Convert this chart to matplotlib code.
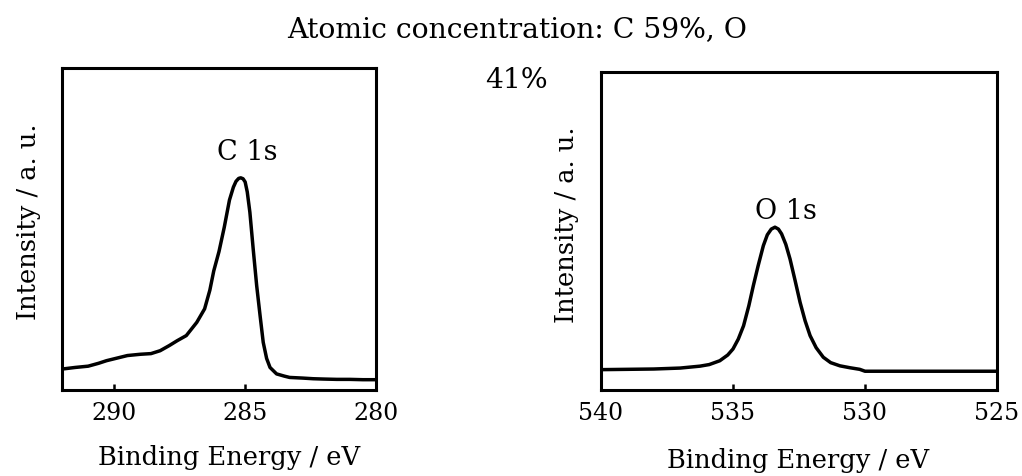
import matplotlib
matplotlib.use("Agg")
import matplotlib.pyplot as plt

# ---- data ----
c1s_be = [292.0, 291.5, 291.0, 290.6, 290.3, 289.9, 289.5, 289.0, 288.6, 288.25,
          287.9, 287.6, 287.25, 286.85, 286.55, 286.35, 286.2, 286.0, 285.8, 285.6,
          285.45, 285.35, 285.25, 285.17, 285.08, 285.0, 284.92, 284.82, 284.69,
          284.56, 284.43, 284.31, 284.18, 284.05, 283.8, 283.5, 283.3, 282.8, 282.4,
          282.0, 281.5, 281.0, 280.5, 280.0]
c1s_int = [6.5, 7.0, 7.4, 8.3, 9.1, 9.9, 10.7, 11.1, 11.3, 12.2,
           13.8, 15.3, 16.9, 21.0, 25.2, 31.0, 37.0, 43.0, 50.5, 59.0,
           63.0, 64.8, 65.7, 65.9, 65.6, 64.6, 61.5, 55.2, 43.5,
           32.4, 23.1, 14.8, 9.8, 7.0, 5.0, 4.3, 3.9, 3.7, 3.5,
           3.4, 3.3, 3.3, 3.2, 3.2]

o1s_be = [540.0, 539.0, 538.0, 537.0, 536.25, 535.9, 535.5, 535.2, 535.0, 534.8,
          534.6, 534.4, 534.23, 534.05, 533.85, 533.7, 533.55, 533.41, 533.28,
          533.16, 533.0, 532.84, 532.65, 532.46, 532.27, 532.08, 531.85, 531.58,
          531.3, 530.95, 530.57, 530.2, 530.0, 528.0, 525.0]
o1s_int = [6.4, 6.5, 6.6, 6.9, 7.5, 8.0, 9.2, 11.0, 12.9, 16.0,
           20.2, 26.5, 32.8, 39.0, 45.4, 48.8, 50.6, 51.2, 50.6,
           49.1, 45.8, 41.2, 34.5, 27.6, 21.8, 17.1, 13.3, 10.3,
           8.6, 7.6, 7.0, 6.5, 5.9, 5.9, 5.9]

c_ticks = [290, 285, 280]
o_ticks = [540, 535, 530, 525]

title_line1 = "Atomic concentration: C 59%, O"
title_line2 = "41%"
xlabel = "Binding Energy / eV"
ylabel = "Intensity / a. u."

plt.rcParams['font.family'] = ['DejaVu Serif']
FS_TICK = 17
FS_LBL = 18.5
FS_PEAK = 19.5
FS_TITLE = 20.3

fig = plt.figure(figsize=(10.22, 4.77), dpi=100)
W, H = 1022, 477

def ax_rect(x0, y0, x1, y1):
    return [x0 / W, 1 - y1 / H, (x1 - x0) / W, (y1 - y0) / H]

ax1 = fig.add_axes(ax_rect(62, 69, 376, 391))
ax2 = fig.add_axes(ax_rect(601, 73, 997, 391))

def style(ax, be, inten, xlim, ticks, lbl, lbl_xy, xl_xy, yl_xy):
    ax.plot(be, inten, color='black', lw=2.5, solid_joinstyle='round')
    ax.set_xlim(*xlim)
    ax.set_ylim(0, 100)
    ax.set_xticks(ticks)
    ax.set_xticklabels([str(t) for t in ticks], fontsize=FS_TICK)
    ax.set_yticks([])
    ax.tick_params(axis='x', direction='in', length=4, width=1.8, pad=8, top=False)
    for s in ax.spines.values():
        s.set_linewidth(2.2)
    ax.text(lbl_xy[0], lbl_xy[1], lbl, fontsize=FS_PEAK, ha='center', va='center')
    ax.set_xlabel(xlabel, fontsize=FS_LBL, va='center')
    ax.xaxis.set_label_coords(*xl_xy)
    ax.set_ylabel(ylabel, fontsize=FS_LBL, va='center')
    ax.yaxis.set_label_coords(*yl_xy)

style(ax1, c1s_be, c1s_int, (292, 280), c_ticks, "C 1s", (284.93, 74.2),
      (0.532, -0.208), (-0.108, 0.525))
style(ax2, o1s_be, o1s_int, (540, 525), o_ticks, "O 1s", (533.0, 56.6),
      (0.497, -0.217), (-0.086, 0.522))

fig.text(517 / W, 1 - 30 / H, title_line1, fontsize=FS_TITLE, ha='center', va='center')
fig.text(516 / W, 1 - 80 / H, title_line2, fontsize=FS_TITLE, ha='center', va='center')

fig.savefig("out.png", dpi=100)
